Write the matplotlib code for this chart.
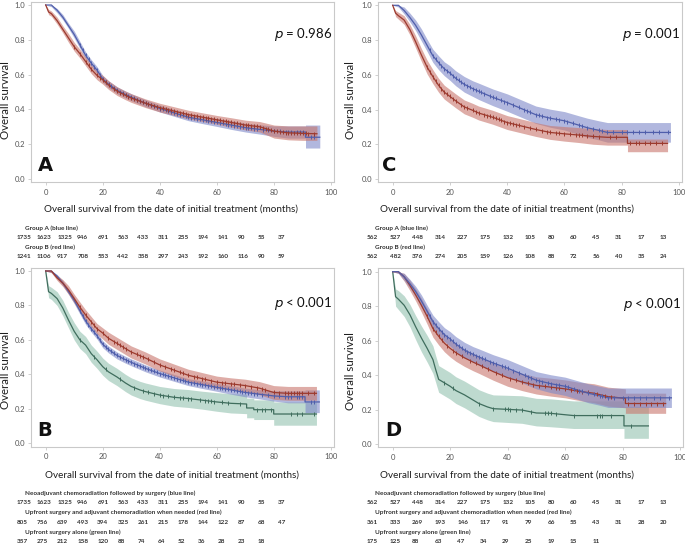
"""Four-panel Kaplan-Meier figure (overall survival by treatment group)."""
import numpy as np
import matplotlib
matplotlib.use("Agg")
import matplotlib.pyplot as plt

W, H = 685, 543

# ---- data ----------------------------------------------------------------
# neoadjuvant group (panels A and B, n=1735)
AB_BLUE_T = [0, 2, 4, 6, 8, 10, 12, 14, 16, 18, 20, 22, 25, 28, 30, 35, 40,
             45, 50, 55, 60, 65, 70, 75, 80, 85, 91, 91, 96]
AB_BLUE_S = [1.0, 1.0, 0.97, 0.93, 0.88, 0.83, 0.77, 0.71, 0.665, 0.625, 0.575,
             0.545, 0.51, 0.485, 0.47, 0.435, 0.405, 0.38, 0.355, 0.34, 0.325,
             0.31, 0.295, 0.285, 0.275, 0.27, 0.27, 0.24, 0.24]
AB_BLUE_LO = [1.0, 0.99, 0.955, 0.915, 0.865, 0.81, 0.75, 0.69, 0.645, 0.605,
              0.555, 0.525, 0.49, 0.465, 0.45, 0.415, 0.385, 0.36, 0.335, 0.318,
              0.302, 0.285, 0.27, 0.258, 0.245, 0.235, 0.235, 0.178, 0.178]
AB_BLUE_HI = [1.0, 1.0, 0.98, 0.945, 0.895, 0.85, 0.79, 0.73, 0.685, 0.645,
              0.595, 0.565, 0.53, 0.505, 0.49, 0.455, 0.425, 0.4, 0.375, 0.362,
              0.348, 0.335, 0.32, 0.312, 0.305, 0.305, 0.305, 0.31, 0.31]
AB_BLUE_CENS = [12, 13, 14, 15, 16, 17, 18, 19, 20, 21, 22, 23, 24, 25, 26, 27,
                28, 29, 30, 31, 32, 33, 34, 35, 36, 37, 38, 39, 40, 41, 42, 43,
                44, 45, 46, 47, 48, 49, 50, 51, 52, 53, 54, 55, 56, 57, 58, 59,
                60, 61, 62, 63, 64, 65, 66, 67, 68, 69, 70, 71, 72, 73, 74, 76,
                78, 80, 82, 84, 85, 86, 88, 89, 90, 93, 94]

# group B in panel A (n=1241)
A_RED_T = [0, 1, 2, 4, 6, 8, 10, 12, 14, 16, 18, 20, 22, 25, 28, 30, 35, 40,
           45, 50, 55, 60, 65, 70, 75, 80, 85, 90, 95]
A_RED_S = [1.0, 0.96, 0.95, 0.91, 0.86, 0.81, 0.76, 0.72, 0.675, 0.63, 0.595,
           0.57, 0.54, 0.505, 0.48, 0.465, 0.435, 0.41, 0.39, 0.37, 0.355, 0.34,
           0.325, 0.31, 0.3, 0.275, 0.265, 0.262, 0.26]
A_RED_LO = [1.0, 0.945, 0.935, 0.89, 0.84, 0.785, 0.735, 0.695, 0.65, 0.605,
            0.57, 0.545, 0.515, 0.48, 0.455, 0.44, 0.41, 0.385, 0.365, 0.345,
            0.33, 0.315, 0.298, 0.282, 0.27, 0.235, 0.225, 0.222, 0.222]
A_RED_HI = [1.0, 0.975, 0.965, 0.93, 0.88, 0.835, 0.785, 0.745, 0.7, 0.655,
            0.62, 0.595, 0.565, 0.53, 0.505, 0.49, 0.46, 0.435, 0.415, 0.395,
            0.38, 0.365, 0.352, 0.338, 0.33, 0.31, 0.305, 0.305, 0.305]
A_RED_CENS = [10, 12, 14, 15, 16, 18, 19, 20, 21, 22, 24, 25, 26, 27, 28, 29,
              30, 31, 32, 33, 34, 35, 36, 37, 38, 39, 40, 41, 42, 43, 44, 45,
              46, 47, 48, 49, 50, 51, 52, 53, 54, 55, 56, 57, 58, 59, 60, 61,
              62, 63, 64, 65, 66, 67, 68, 69, 70, 71, 72, 73, 74, 75, 76, 77,
              78, 79, 80, 81, 82, 83, 84, 85, 86, 87, 88, 89, 90, 91, 92, 94]

# upfront surgery + adjuvant chemoradiation (panel B, n=805)
B_RED_T = [0, 2, 4, 6, 8, 10, 12, 14, 16, 18, 20, 22, 25, 28, 30, 35, 40, 45,
           50, 55, 60, 65, 70, 75, 80, 85, 90, 95]
B_RED_S = [1.0, 1.0, 0.96, 0.93, 0.89, 0.84, 0.79, 0.745, 0.705, 0.665, 0.64,
           0.61, 0.58, 0.55, 0.53, 0.495, 0.455, 0.425, 0.395, 0.375, 0.355,
           0.345, 0.335, 0.32, 0.295, 0.29, 0.29, 0.29]
B_RED_LO = [1.0, 0.99, 0.945, 0.91, 0.865, 0.815, 0.76, 0.715, 0.675, 0.635,
            0.605, 0.575, 0.545, 0.515, 0.495, 0.46, 0.42, 0.39, 0.36, 0.34,
            0.32, 0.31, 0.298, 0.282, 0.255, 0.25, 0.25, 0.25]
B_RED_HI = [1.0, 1.0, 0.975, 0.95, 0.915, 0.865, 0.82, 0.775, 0.735, 0.695,
            0.67, 0.645, 0.615, 0.585, 0.565, 0.53, 0.49, 0.46, 0.43, 0.41,
            0.39, 0.38, 0.372, 0.358, 0.335, 0.33, 0.33, 0.33]
B_RED_CENS = [12, 14, 16, 17, 18, 20, 22, 24, 25, 26, 27, 28, 30, 32, 33, 34,
              36, 38, 40, 42, 44, 45, 47, 48, 50, 52, 53, 55, 56, 58, 60, 62,
              63, 65, 66, 68, 70, 72, 74, 76, 77, 80, 82, 84, 85, 86, 87, 88,
              89, 90, 92, 94]

# upfront surgery alone (panel B, n=357)
B_GREEN_T = [0, 1, 2, 4, 6, 8, 10, 12, 14, 16, 18, 20, 22, 25, 28, 30, 33, 35,
             40, 45, 50, 55, 60, 65, 70.5, 70.5, 73, 73, 80, 80, 95]
B_GREEN_S = [1.0, 0.88, 0.87, 0.84, 0.785, 0.715, 0.65, 0.6, 0.57, 0.52, 0.485,
             0.445, 0.415, 0.385, 0.35, 0.33, 0.31, 0.3, 0.28, 0.267, 0.26, 0.25,
             0.24, 0.232, 0.228, 0.205, 0.205, 0.195, 0.195, 0.17, 0.17]
B_GREEN_LO = [1.0, 0.845, 0.835, 0.8, 0.74, 0.67, 0.6, 0.55, 0.52, 0.47, 0.435,
              0.395, 0.365, 0.335, 0.3, 0.28, 0.26, 0.25, 0.23, 0.215, 0.208,
              0.198, 0.186, 0.176, 0.172, 0.148, 0.148, 0.138, 0.138, 0.105,
              0.105]
B_GREEN_HI = [1.0, 0.915, 0.905, 0.88, 0.83, 0.76, 0.7, 0.65, 0.62, 0.57, 0.535,
              0.495, 0.465, 0.435, 0.4, 0.38, 0.36, 0.35, 0.33, 0.318, 0.312,
              0.302, 0.294, 0.288, 0.285, 0.262, 0.262, 0.252, 0.252, 0.24, 0.24]
B_GREEN_CENS = [12, 17, 21, 26, 31, 34, 36, 38, 40, 41, 43, 45, 47, 48, 50, 51,
                54, 56, 57, 58, 59, 62, 64, 68, 74, 76, 77, 79, 86, 88, 90, 94]

# neoadjuvant group (panels C and D, n=562)
CD_BLUE_T = [0, 2, 4, 6, 8, 10, 12, 14, 16, 18, 20, 22, 25, 28, 30, 35, 40, 45,
             50, 55, 60, 65, 68, 72, 75, 97]
CD_BLUE_S = [1.0, 1.0, 0.97, 0.93, 0.885, 0.83, 0.77, 0.71, 0.67, 0.635, 0.61,
             0.58, 0.545, 0.52, 0.505, 0.47, 0.44, 0.405, 0.37, 0.35, 0.335,
             0.31, 0.295, 0.28, 0.268, 0.268]
CD_BLUE_LO = [1.0, 0.99, 0.95, 0.905, 0.855, 0.795, 0.735, 0.672, 0.63, 0.595,
              0.568, 0.537, 0.5, 0.475, 0.458, 0.422, 0.39, 0.355, 0.32, 0.298,
              0.282, 0.256, 0.24, 0.225, 0.212, 0.212]
CD_BLUE_HI = [1.0, 1.0, 0.99, 0.955, 0.915, 0.865, 0.805, 0.748, 0.71, 0.675,
              0.652, 0.623, 0.59, 0.565, 0.552, 0.518, 0.49, 0.455, 0.42, 0.402,
              0.388, 0.364, 0.35, 0.335, 0.325, 0.325]
CD_BLUE_CENS = [13, 14, 15, 16, 17, 18, 19, 20, 21, 22, 23, 24, 25, 26, 27, 28,
                29, 30, 31, 32, 34, 35, 36, 38, 39, 40, 42, 44, 46, 47, 48, 50,
                51, 52, 54, 55, 57, 58, 60, 61, 63, 65, 66, 68, 70, 72, 73, 75,
                77, 80, 82, 84, 86, 88, 91, 93, 96]

# group B in panel C (n=562)
C_RED_T = [0, 1, 2, 4, 6, 8, 10, 12, 14, 16, 18, 20, 22, 25, 28, 30, 35, 40,
           45, 50, 55, 60, 65, 70, 75, 82, 82, 96]
C_RED_S = [1.0, 0.955, 0.94, 0.915, 0.86, 0.79, 0.715, 0.645, 0.59, 0.54, 0.5,
           0.475, 0.45, 0.415, 0.395, 0.38, 0.355, 0.325, 0.305, 0.285, 0.268,
           0.26, 0.253, 0.245, 0.24, 0.24, 0.205, 0.205]
C_RED_LO = [1.0, 0.935, 0.92, 0.89, 0.83, 0.755, 0.678, 0.605, 0.55, 0.5,
            0.46, 0.435, 0.41, 0.375, 0.355, 0.34, 0.315, 0.285, 0.265, 0.245,
            0.228, 0.218, 0.21, 0.2, 0.195, 0.195, 0.157, 0.157]
C_RED_HI = [1.0, 0.97, 0.96, 0.94, 0.89, 0.825, 0.752, 0.685, 0.63, 0.58,
            0.54, 0.515, 0.49, 0.455, 0.435, 0.42, 0.395, 0.365, 0.345, 0.325,
            0.308, 0.302, 0.296, 0.29, 0.285, 0.285, 0.23, 0.23]
C_RED_CENS = [12, 13, 14, 15, 16, 17, 18, 19, 20, 21, 22, 24, 25, 26, 28, 29,
              30, 32, 33, 34, 35, 36, 37, 38, 39, 40, 41, 42, 43, 44, 46, 48,
              50, 52, 54, 55, 57, 58, 60, 62, 64, 65, 66, 68, 70, 72, 76, 78,
              83, 85, 86, 88, 90, 92, 94]

# upfront surgery + adjuvant chemoradiation (panel D, n=361)
D_RED_T = [0, 2, 4, 6, 8, 10, 12, 14, 16, 18, 20, 22, 25, 28, 30, 35, 40, 45,
           50, 55, 60, 65, 70, 75, 81, 81, 95]
D_RED_S = [1.0, 1.0, 0.97, 0.92, 0.865, 0.805, 0.74, 0.67, 0.625, 0.585, 0.555,
           0.53, 0.5, 0.475, 0.46, 0.42, 0.385, 0.36, 0.34, 0.33, 0.32, 0.305,
           0.295, 0.275, 0.265, 0.235, 0.235]
D_RED_LO = [1.0, 0.99, 0.945, 0.89, 0.83, 0.765, 0.695, 0.62, 0.575, 0.535,
            0.505, 0.48, 0.45, 0.425, 0.41, 0.37, 0.335, 0.31, 0.29, 0.278,
            0.268, 0.252, 0.24, 0.22, 0.21, 0.178, 0.178]
D_RED_HI = [1.0, 1.0, 0.99, 0.95, 0.9, 0.845, 0.785, 0.72, 0.675, 0.635, 0.605,
            0.58, 0.55, 0.525, 0.51, 0.47, 0.435, 0.41, 0.39, 0.382, 0.372,
            0.358, 0.35, 0.33, 0.32, 0.295, 0.295]
D_RED_CENS = [12, 14, 15, 16, 17, 19, 21, 22, 24, 27, 29, 31, 33, 36, 38, 41,
              43, 45, 47, 49, 51, 53, 55, 57, 58, 60, 62, 64, 66, 68, 71, 74,
              76, 82, 84, 86, 88, 90, 92, 94]

# upfront surgery alone (panel D, n=175)
D_GREEN_T = [0, 1, 2, 4, 6, 8, 10, 12, 14, 15, 16, 18, 20, 22, 25, 28, 30, 33,
             35, 45, 50, 55, 63, 80.5, 80.5, 89]
D_GREEN_S = [1.0, 0.855, 0.84, 0.805, 0.75, 0.68, 0.615, 0.555, 0.49, 0.43,
             0.375, 0.355, 0.335, 0.31, 0.285, 0.255, 0.235, 0.215, 0.205,
             0.197, 0.18, 0.178, 0.165, 0.165, 0.105, 0.105]
D_GREEN_LO = [1.0, 0.8, 0.78, 0.74, 0.68, 0.605, 0.535, 0.475, 0.41, 0.355,
              0.3, 0.28, 0.26, 0.235, 0.21, 0.18, 0.16, 0.14, 0.13, 0.12, 0.105,
              0.1, 0.09, 0.09, 0.033, 0.033]
D_GREEN_HI = [1.0, 0.9, 0.89, 0.86, 0.81, 0.745, 0.685, 0.63, 0.57, 0.51,
              0.455, 0.435, 0.415, 0.39, 0.365, 0.335, 0.315, 0.295, 0.285,
              0.28, 0.265, 0.262, 0.25, 0.25, 0.217, 0.217]
D_GREEN_CENS = [18, 21, 30, 35, 39, 40, 41, 43, 45, 48, 53, 54, 55, 57, 63, 71,
                72, 73, 76, 83]

# numbers at risk
TAB_A = [[1735, 1623, 1325, 946, 691, 563, 433, 311, 255, 194, 141, 90, 55, 37],
         [1241, 1106, 917, 708, 553, 442, 358, 297, 243, 192, 160, 116, 90, 59]]
TAB_C = [[562, 527, 448, 314, 227, 175, 132, 105, 80, 60, 45, 31, 17, 13],
         [562, 482, 376, 274, 205, 159, 126, 108, 88, 72, 56, 40, 35, 24]]
TAB_B = [[1735, 1623, 1325, 946, 691, 563, 433, 311, 255, 194, 141, 90, 55, 37],
         [805, 756, 639, 493, 394, 325, 261, 215, 178, 144, 122, 87, 68, 47],
         [357, 275, 212, 158, 120, 88, 74, 64, 52, 36, 28, 23, 18]]
TAB_D = [[562, 527, 448, 314, 227, 175, 132, 105, 80, 60, 45, 31, 17, 13],
         [361, 333, 269, 193, 146, 117, 91, 79, 66, 55, 43, 31, 28, 20],
         [175, 125, 88, 63, 47, 34, 29, 25, 19, 15, 11]]
TAB_LABELS_2 = ["Group A (blue line)", "Group B (red line)"]
TAB_LABELS_3 = ["Neoadjuvant chemoradiation followed by surgery (blue line)",
                "Upfront surgery and adjuvant chemoradiation when needed (red line)",
                "Upfront surgery alone (green line)"]

# ---- style ----------------------------------------------------------------
BLUE, RED, GREEN = "#4f5eab", "#9c3a2e", "#3f6d5d"
BLUE_F, RED_F, GREEN_F = "#7d88c8", "#c8766c", "#94c2b0"
FRAME = "#c9c9c9"
TICK = "#555555"
INK = "#1e1e1e"
XLABEL = "Overall survival from the date of initial treatment (months)"

plt.rcParams.update({
    "font.family": ["Lato", "DejaVu Sans"],
    "font.size": 8,
})

fig = plt.figure(figsize=(W / 100, H / 100), dpi=100)
fig.patch.set_facecolor("white")


def panel(x0, ppm, y1, y0):
    """Axes placed so month 0 sits at pixel x0, 1.0 at y1 and 0.0 at y0."""
    xlo, xhi, ylo, yhi = -5, 101, -0.02, 1.02
    pu = y0 - y1
    left = x0 + xlo * ppm
    right = x0 + xhi * ppm
    top = y0 - yhi * pu
    bottom = y0 - ylo * pu
    ax = fig.add_axes([left / W, 1 - bottom / H, (right - left) / W,
                       (bottom - top) / H])
    ax.set_xlim(xlo, xhi)
    ax.set_ylim(ylo, yhi)
    for s in ax.spines.values():
        s.set_color(FRAME)
        s.set_linewidth(0.8)
    ax.set_xticks([0, 20, 40, 60, 80, 100])
    ax.set_yticks([0.0, 0.2, 0.4, 0.6, 0.8, 1.0])
    ax.set_yticklabels(["0.0", "0.2", "0.4", "0.6", "0.8", "1.0"])
    ax.tick_params(direction="out", length=2.5, width=0.6, color=FRAME,
                   labelsize=5.5, labelcolor=TICK, pad=2)
    return ax


def axis_titles(xc, yc_x, ylab_x, ylab_y):
    fig.text(xc / W, 1 - yc_x / H, XLABEL, fontsize=7.1, color=INK,
             ha="center", va="center")
    fig.text(ylab_x / W, 1 - ylab_y / H, "Overall survival", fontsize=8.3,
             color=INK, ha="center", va="center", rotation=90)


def curve(ax, t, s, lo, hi, cens, line, fill):
    ax.fill_between(t, lo, hi, color=fill, alpha=0.6, linewidth=0, zorder=1)
    ax.plot(t, s, color=line, linewidth=0.9, zorder=3)
    ax.plot(cens, np.interp(cens, t, s), linestyle="none", marker="|",
            markersize=3.2, markeredgewidth=0.7, color=line, zorder=4)


def labels(ax, letter, ptxt, py, lx):
    ax.text(lx, 0.045, letter, fontsize=14, fontweight="bold", ha="left",
            va="baseline", family="DejaVu Sans", color="#111111")
    ax.text(80, py, r"$\it{p}$" + ptxt, fontsize=9.5, ha="left",
            va="center", color="#111111")


def table(rows, names, x_first, x_last, y_first, dy):
    step = (x_last - x_first) / 13
    y = y_first
    for name, row in zip(names, rows):
        fig.text((x_first + 8) / W, 1 - y / H, name, fontsize=4.6,
                 fontweight="bold", color="#333333", va="center", ha="left")
        y += dy
        for i, v in enumerate(row):
            fig.text((x_first + i * step) / W, 1 - y / H, str(v), fontsize=4.6,
                     fontweight="bold", color="#333333", va="center", ha="left")
        y += dy


# panel A
axA = panel(45.7, 2.855, 5.0, 179.0)
curve(axA, AB_BLUE_T, AB_BLUE_S, AB_BLUE_LO, AB_BLUE_HI, AB_BLUE_CENS, BLUE, BLUE_F)
curve(axA, A_RED_T, A_RED_S, A_RED_LO, A_RED_HI, A_RED_CENS, RED, RED_F)
labels(axA, "A", " = 0.986", 0.83, -2.8)
axis_titles(171, 209, 6, 100)
table(TAB_A, TAB_LABELS_2, 17, 278, 228, 9.6)

# panel C
axC = panel(392.7, 2.863, 5.3, 179.0)
curve(axC, CD_BLUE_T, CD_BLUE_S, CD_BLUE_LO, CD_BLUE_HI, CD_BLUE_CENS, BLUE, BLUE_F)
curve(axC, C_RED_T, C_RED_S, C_RED_LO, C_RED_HI, C_RED_CENS, RED, RED_F)
labels(axC, "C", " = 0.001", 0.83, -3.7)
axis_titles(507.5, 209, 351, 100)
table(TAB_C, TAB_LABELS_2, 367, 660, 228, 9.6)

# panel B
axB = panel(45.7, 2.85, 271.0, 443.3)
curve(axB, B_GREEN_T, B_GREEN_S, B_GREEN_LO, B_GREEN_HI, B_GREEN_CENS, GREEN, GREEN_F)
curve(axB, AB_BLUE_T, AB_BLUE_S, AB_BLUE_LO, AB_BLUE_HI, AB_BLUE_CENS, BLUE, BLUE_F)
curve(axB, B_RED_T, B_RED_S, B_RED_LO, B_RED_HI, B_RED_CENS, RED, RED_F)
labels(axB, "B", " < 0.001", 0.81, -2.8)
axis_titles(172, 475, 6, 370)
table(TAB_B, TAB_LABELS_3, 17, 278, 493, 9.8)

# panel D
axD = panel(392.7, 2.873, 271.7, 444.0)
curve(axD, D_GREEN_T, D_GREEN_S, D_GREEN_LO, D_GREEN_HI, D_GREEN_CENS, GREEN, GREEN_F)
curve(axD, D_RED_T, D_RED_S, D_RED_LO, D_RED_HI, D_RED_CENS, RED, RED_F)
curve(axD, CD_BLUE_T, CD_BLUE_S, CD_BLUE_LO, CD_BLUE_HI, CD_BLUE_CENS, BLUE, BLUE_F)
labels(axD, "D", " < 0.001", 0.81, -2.7)
axis_titles(507.5, 475, 351, 371)
table(TAB_D, TAB_LABELS_3, 367, 660, 493, 9.8)

fig.savefig("out.png", dpi=100, facecolor="white")
